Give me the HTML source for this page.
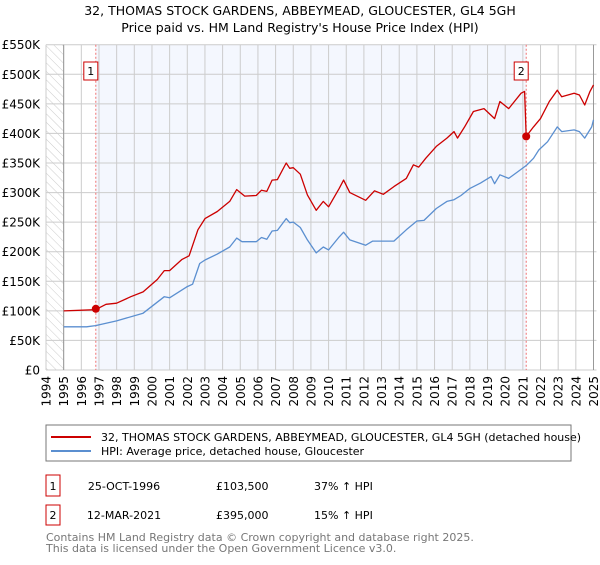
<!DOCTYPE html>
<html><head><meta charset="utf-8"><style>
body{margin:0;background:#fff;font-family:"Liberation Sans","DejaVu Sans",sans-serif}
svg text{font-family:"DejaVu Sans","Liberation Sans",sans-serif}
</style></head><body>
<svg id="c" width="600" height="560" viewBox="0 0 600 560" xmlns="http://www.w3.org/2000/svg">
<text x="300" y="15" text-anchor="middle" font-size="12.5" fill="#000">32, THOMAS STOCK GARDENS, ABBEYMEAD, GLOUCESTER, GL4 5GH</text>
<text x="300" y="32" text-anchor="middle" font-size="12.5" fill="#000">Price paid vs. HM Land Registry's House Price Index (HPI)</text>
<defs><pattern id="hatch" width="6" height="6" patternUnits="userSpaceOnUse" patternTransform="rotate(-45)"><line x1="0" y1="0" x2="0" y2="6" stroke="#ccc" stroke-width="1"/></pattern></defs>
<g id="plot"></g>
<rect x="46" y="425" width="525" height="36" fill="#fff" stroke="#777" stroke-width="1"/>
<line x1="51" y1="437" x2="91" y2="437" stroke="#cc0000" stroke-width="2"/>
<text x="101" y="441" font-size="11">32, THOMAS STOCK GARDENS, ABBEYMEAD, GLOUCESTER, GL4 5GH (detached house)</text>
<line x1="51" y1="451" x2="91" y2="451" stroke="#5b8fd0" stroke-width="2"/>
<text x="101" y="455" font-size="11">HPI: Average price, detached house, Gloucester</text>
<g>
<rect x="46" y="475" width="14" height="21" fill="#fff" stroke="#cc0000"/>
<text x="53" y="490" font-size="11" text-anchor="middle">1</text>
<text x="124" y="490" font-size="11" text-anchor="middle">25-OCT-1996</text>
<text x="216" y="490" font-size="11">£103,500</text>
<text x="314" y="490" font-size="11">37% ↑ HPI</text>
</g>
<g>
<rect x="46" y="505" width="14" height="20" fill="#fff" stroke="#cc0000"/>
<text x="53" y="519" font-size="11" text-anchor="middle">2</text>
<text x="124" y="519" font-size="11" text-anchor="middle">12-MAR-2021</text>
<text x="216" y="519" font-size="11">£395,000</text>
<text x="314" y="519" font-size="11">15% ↑ HPI</text>
</g>
<text x="46" y="541" font-size="11" fill="#777">Contains HM Land Registry data © Crown copyright and database right 2025.</text>
<text x="46" y="552" font-size="11" fill="#777">This data is licensed under the Open Government Licence v3.0.</text>
</svg>
<script>
const hpiYears=[1995,1996.3,1996.8,1998,1999.5,2000.7,2001,2002,2002.3,2002.7,2003,2003.7,2004.4,2004.8,2005.1,2005.9,2006.2,2006.5,2006.8,2007.1,2007.6,2007.8,2008,2008.4,2008.8,2009.3,2009.7,2010,2010.6,2010.85,2011.2,2012.1,2012.5,2013.7,2014.4,2015,2015.4,2016.1,2016.7,2017.1,2017.5,2018,2018.6,2019.2,2019.4,2019.7,2020.2,2020.7,2021.2,2021.6,2021.9,2022.4,2022.95,2023.2,2023.9,2024.2,2024.5,2024.9,2025];
const hpiValues=[73,73,75,83,96,124,122,141,145,180,186,196,208,223,217,217,224,221,235,236,256,249,250,241,220,198,208,203,225,233,220,211,218,218,237,252,253,273,285,288,295,307,316,327,315,330,324,335,346,358,372,386,411,403,406,403,392,411,423];
const priceYears=[1995,1996.8,1997.4,1998,1998.8,1999.5,2000.3,2000.7,2001,2001.7,2002.1,2002.6,2003,2003.7,2004.4,2004.8,2005.25,2005.9,2006.2,2006.5,2006.8,2007.1,2007.6,2007.8,2008,2008.4,2008.8,2009.3,2009.7,2010,2010.6,2010.85,2011.2,2012.1,2012.6,2013.1,2013.7,2014.4,2014.8,2015.1,2015.5,2016.1,2016.7,2017.1,2017.3,2017.7,2018.2,2018.8,2019.4,2019.7,2020.2,2020.9,2021.1,2021.19,2021.6,2022,2022.5,2022.95,2023.2,2023.9,2024.2,2024.5,2024.8,2025];
const priceValues=[100,102,111,113,124,132,153,168,168,187,193,237,256,268,285,305,294,295,304,302,321,322,350,341,342,331,296,270,285,276,307,321,300,287,303,297,310,324,347,343,358,378,392,403,392,411,437,442,425,454,442,468,471,395,411,425,454,473,462,468,465,448,471,482];
const saleYears=[1996.82,2021.19];
const saleValues=[103.5,395];
const yTicks=[0,50,100,150,200,250,300,350,400,450,500,550];
const yTickLabels=["£0","£50K","£100K","£150K","£200K","£250K","£300K","£350K","£400K","£450K","£500K","£550K"];
const xTicks=[1994,1995,1996,1997,1998,1999,2000,2001,2002,2003,2004,2005,2006,2007,2008,2009,2010,2011,2012,2013,2014,2015,2016,2017,2018,2019,2020,2021,2022,2023,2024,2025];

const X0=46,X1=593.5,Y0=370,Y1=44.7;
const xs=y=>X0+(y-1994)*(X1-X0)/31;
const ys=v=>Y0-(v)*(Y0-Y1)/550;
const NS="http://www.w3.org/2000/svg";
const g=document.getElementById('plot');
function mk(t,a,p){const e=document.createElementNS(NS,t);for(const k in a)e.setAttribute(k,a[k]);(p||g).appendChild(e);return e;}
let e;
e=mk('rect',{x:X0,y:Y1,width:X1-X0+3,height:Y0-Y1,fill:'#fff'});
e=mk('rect',{x:xs(1996.82),y:Y1,width:xs(2021.19)-xs(1996.82),height:Y0-Y1,fill:'#f4f7fe'});


e=mk('rect',{x:X0,y:Y1,width:xs(1995)-X0,height:Y0-Y1,fill:'url(#hatch)'});


yTicks.forEach((v,i)=>{
 e=mk('line',{x1:X0,x2:X1+3,y1:ys(v),y2:ys(v),stroke:'#ccc','stroke-width':1});
 
 
 e=mk('text',{x:40,y:ys(v)+4.5,'text-anchor':'end','font-size':12});
 e.textContent=yTickLabels[i];
 
 
});
xTicks.forEach(t=>{
 e=mk('line',{x1:xs(t),x2:xs(t),y1:Y1,y2:Y0,stroke:'#ccc','stroke-width':1});
 
 
 e=mk('text',{x:0,y:0,'text-anchor':'end','font-size':12,transform:`translate(${xs(t)+4.5},376) rotate(-90)`});
 e.textContent=t;
 
 
});
e=mk('line',{x1:xs(1995),x2:xs(1995),y1:Y1,y2:Y0,stroke:'#999'});
e=mk('line',{x1:X1,x2:X1,y1:Y1,y2:Y0,stroke:'#999'});
saleYears.forEach((s,i)=>{
 e=mk('line',{x1:xs(s),x2:xs(s),y1:Y1,y2:Y0,stroke:'#f07070','stroke-dasharray':'2,2'});
 
 
 e=mk('rect',{x:xs(s)-12,y:62,width:14,height:18,fill:'#fff',stroke:'#cc0000'});
 
 
 e=mk('text',{x:xs(s)-5,y:75,'text-anchor':'middle','font-size':11});
 e.textContent=String(i+1);
 
 
});
function line(xa,va,col,name){
 const d=xa.map((x,i)=>(i?'L':'M')+xs(x).toFixed(1)+','+ys(va[i]).toFixed(1)).join('');
 const p=mk('path',{d:d,fill:'none',stroke:col,'stroke-width':1.3,'stroke-linejoin':'round'});
 
 
}
line(hpiYears,hpiValues,'#5b8fd0','hpi-line');
line(priceYears,priceValues,'#cc0000','price-paid-line');
saleYears.forEach((s,i)=>{
 e=mk('circle',{cx:xs(s),cy:ys(saleValues[i]),r:4,fill:'#cc0000'});
 
 
});
</script>
</body></html>
